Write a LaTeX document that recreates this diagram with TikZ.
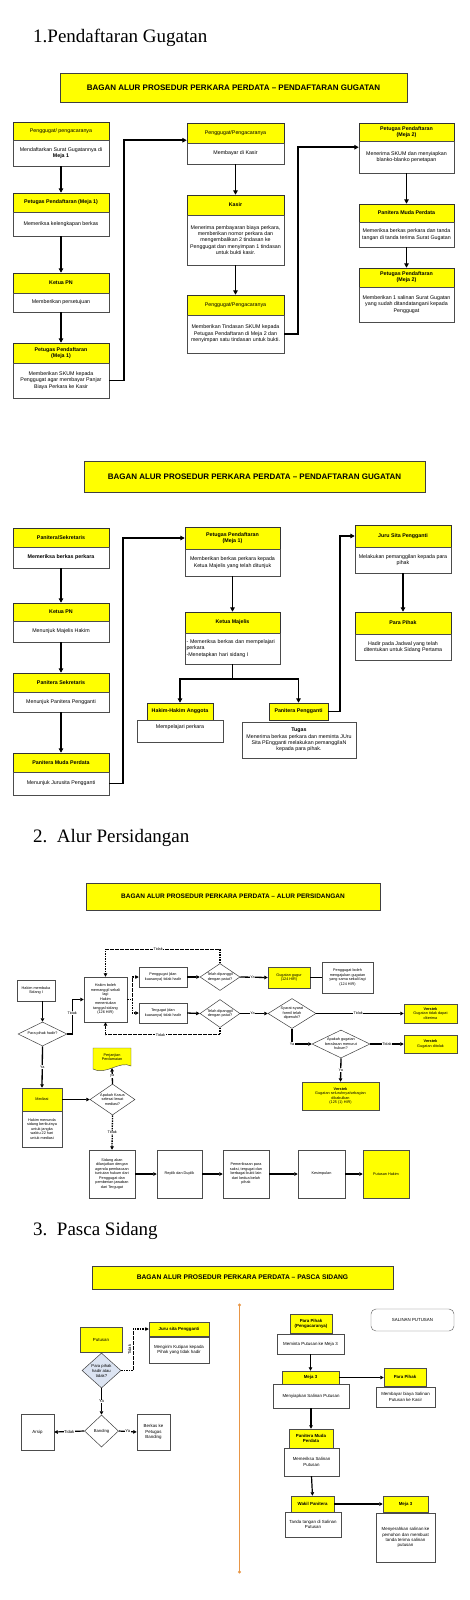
\documentclass[tikz,border=0pt]{standalone}
\usepackage{fontspec}
\setmainfont{Liberation Sans}
\newfontfamily\sectfont{Liberation Serif}
\usetikzlibrary{arrows.meta,shapes.geometric,calc}
\definecolor{ylw}{RGB}{255,255,0}
\definecolor{orng}{RGB}{232,150,70}
\definecolor{ltblue}{RGB}{220,228,242}
\newcommand\mybox[7]{%
 \pgfmathsetmacro\mbcx{(#3+#5)/2}%
 \pgfmathsetmacro\mbcy{(#4+#6)/2}%
 \pgfmathsetmacro\mbw{#5-#3}%
 \pgfmathsetmacro\mbh{#6-#4}%
 \node[#2, minimum width=\mbw pt, minimum height=\mbh pt] (#1) at (\mbcx,\mbcy) {#7};}
\newcommand\mydia[8]{%
 \node[#2, minimum width=#5pt, minimum height=#6pt] (#1) at (#3,#4) {};
 \node[#7] at (#1) {#8};}
\tikzset{
 sect/.style={font=\sectfont\fontsize{19}{22}\selectfont, inner sep=0pt},
 ttl/.style={draw=black!75, fill=ylw, line width=0.6pt, inner sep=0pt, font=\fontsize{8}{9}\selectfont\bfseries},
 hdr/.style={draw=black!80, fill=ylw, line width=0.45pt, align=center, inner xsep=1pt, inner ysep=0.3pt, font=\fontsize{5.3}{6}\selectfont\bfseries},
 hdrn/.style={hdr, font=\fontsize{5.3}{6}\selectfont},
 bod/.style={draw=black!70, fill=white, line width=0.45pt, align=center, inner xsep=1pt, inner ysep=0.3pt, font=\fontsize{5.3}{6.4}\selectfont},
 arr/.style={line width=1.6pt, -{Triangle[length=4.5pt,width=4.5pt]}},
 cline/.style={line width=1.6pt},
 b3/.style={draw=black!70, fill=white, line width=0.45pt, align=center, inner sep=0.5pt, font=\fontsize{3.8}{4.5}\selectfont},
 y3/.style={b3, fill=ylw},
 ttl3/.style={ttl, font=\fontsize{6.5}{7.5}\selectfont\bfseries},
 dia/.style={diamond, draw=black!75, fill=white, line width=0.5pt, inner sep=0pt},
 dtxt/.style={align=center, inner sep=0pt, font=\fontsize{3.8}{4.5}\selectfont},
 dtxt4/.style={align=center, inner sep=0pt, font=\fontsize{4.2}{5}\selectfont},
 arr3/.style={line width=1.3pt, -{Triangle[length=3.5pt,width=3.5pt]}},
 cl3/.style={line width=1.3pt},
 ds3/.style={arr3, dash pattern=on 1.6pt off 0.9pt},
 dl3/.style={cl3, dash pattern=on 1.6pt off 0.9pt},
 lab/.style={fill=white, inner sep=0.5pt, font=\fontsize{3.8}{4.5}\selectfont},
 b4/.style={draw=black!70, fill=white, line width=0.45pt, align=center, inner sep=0.5pt, font=\fontsize{4.4}{5.2}\selectfont},
 y4/.style={b4, fill=ylw, font=\fontsize{4.4}{5.2}\selectfont\bfseries},
 y4n/.style={b4, fill=ylw},
 ttl4/.style={ttl, font=\fontsize{6.7}{7.5}\selectfont\bfseries},
 arr4/.style={line width=1.2pt, -{Triangle[length=3.5pt,width=3.5pt]}},
 ds4/.style={arr4, dash pattern=on 1.6pt off 0.9pt},
 lab4/.style={fill=white, inner sep=0.5pt, font=\fontsize{4.2}{5}\selectfont},
}
\begin{document}
\begin{tikzpicture}[x=1pt,y=-1pt]
\useasboundingbox (0,0) rectangle (469,1600);
\fill[white] (0,0) rectangle (469,1600);

% ---------- section titles
\node[sect, anchor=west] (s1) at (33,38) {1.Pendaftaran Gugatan};
\node[sect, anchor=west] (s2) at (33,838) {2.\ \ Alur Persidangan};
\node[sect, anchor=west] (s3) at (33,1231) {3.\ \ Pasca Sidang};

% ---------- flowchart 1
\mybox{T1}{ttl}{60}{73}{407}{102}{BAGAN ALUR PROSEDUR PERKARA PERDATA – PENDAFTARAN GUGATAN}
\mybox{A1h}{hdrn}{13}{122}{109}{140}{Penggugat/ pengacaranya}
\mybox{A1b}{bod}{13}{140}{109}{166}{Mendaftarkan Surat Gugatannya di\\\textbf{Meja 1}}
\mybox{A2h}{hdr}{13}{193}{109}{212}{Petugas Pendaftaran (Meja 1)}
\mybox{A2b}{bod}{13}{212}{109}{236}{Memeriksa kelengkapan berkas}
\mybox{A3h}{hdr}{13}{273}{109}{293}{Ketua PN}
\mybox{A3b}{bod}{13}{293}{109}{312}{Memberikan persetujuan}
\mybox{A4h}{hdr}{13}{343}{109}{363}{Petugas Pendaftaran\\(Meja 1)}
\mybox{A4b}{bod}{13}{363}{109}{398}{Memberikan SKUM kepada\\Penggugat agar membayar Panjar\\Biaya Perkara ke Kasir}
\draw[arr] (A1b.south) -- (A2h.north);
\draw[arr] (A2b.south) -- (A3h.north);
\draw[arr] (A3b.south) -- (A4h.north);

\mybox{B1h}{hdrn}{187}{123}{284}{143}{Penggugat/Pengacaranya}
\mybox{B1b}{bod}{187}{143}{284}{164}{Membayar di Kasir}
\mybox{B2h}{hdr}{187}{195}{284}{215}{Kasir}
\mybox{B2b}{bod}{187}{215}{284}{265}{Menerima pembayaran biaya perkara,\\memberikan nomor perkara dan\\mengembalikan 2 tindasan ke\\Penggugat dan menyimpan 1 tindasan\\untuk bukti kasir.}
\mybox{B3h}{hdrn}{187}{295}{284}{315}{Penggugat/Pengacaranya}
\mybox{B3b}{bod}{187}{315}{284}{353}{Memberikan Tindasan SKUM kepada\\Petugas Pendaftaran di Meja 2 dan\\menyimpan satu tindasan untuk bukti.}
\draw[arr] (B1b.south) -- (B2h.north);
\draw[arr] (B2b.south) -- (B3h.north);
\draw[arr] (A4b.east) -- ++(15,0) |- ([yshift=3pt]B1h.south west);

\mybox{C1h}{hdr}{359}{123}{454}{141}{Petugas Pendaftaran\\(Meja 2)}
\mybox{C1b}{bod}{359}{141}{454}{173}{Menerima SKUM dan menyiapkan\\blanko-blanko penetapan}
\mybox{C2h}{hdr}{359}{204}{454}{222}{Panitera Muda Perdata}
\mybox{C2b}{bod}{359}{222}{454}{247}{Memeriksa berkas perkara dan tanda\\tangan di tanda terima Surat Gugatan}
\mybox{C3h}{hdr}{359}{268}{454}{287}{Petugas Pendaftaran\\(Meja 2)}
\mybox{C3b}{bod}{359}{287}{454}{322}{Memberikan 1 salinan Surat Gugatan\\yang sudah ditandatangani kepada\\Penggugat}
\draw[arr] (C1b.south) -- (C2h.north);
\draw[arr] (C2b.south) -- (C3h.north);
\draw[arr] (B3b.east) -- ++(14,0) |- ([yshift=-6pt]C1h.south west);

% ---------- flowchart 2
\mybox{T2}{ttl}{84}{461}{425}{492}{BAGAN ALUR PROSEDUR PERKARA PERDATA – PENDAFTARAN GUGATAN}
\mybox{D1h}{hdr}{13}{528}{109}{547}{Panitera/Sekretaris}
\mybox{D1b}{bod}{13}{547}{109}{568}{\textbf{Memeriksa berkas perkara}}
\mybox{D2h}{hdr}{13}{603}{109}{621}{Ketua PN}
\mybox{D2b}{bod}{13}{621}{109}{642}{Menunjuk Majelis Hakim}
\mybox{D3h}{hdr}{13}{673}{109}{692}{Panitera Sekretaris}
\mybox{D3b}{bod}{13}{692}{109}{712}{Menunjuk Panitera Pengganti}
\mybox{D4h}{hdr}{13}{753}{109}{772}{Panitera Muda Perdata}
\mybox{D4b}{bod}{13}{772}{109}{795}{Menunjuk Jurusita Pengganti}
\draw[arr] (D1b.south) -- (D2h.north);
\draw[arr] (D2b.south) -- (D3h.north);
\draw[arr] (D3b.south) -- (D4h.north);

\mybox{E1h}{hdr}{185}{527}{280}{549}{Petugas Pendaftaran\\(Meja 1)}
\mybox{E1b}{bod}{185}{549}{280}{576}{Memberikan berkas perkara kepada\\Ketua Majelis yang telah ditunjuk}
\mybox{E2h}{hdr}{185}{612}{280}{633}{Ketua Majelis}
\mybox{E2b}{bod, align=left, text width=92pt}{185}{633}{280}{664}{- Memeriksa berkas dan mempelajari\\perkara\\-Menetapkan hari sidang I}
\draw[arr] (D4b.east) -- ++(14,0) |- (E1h.west);
\draw[arr] (E1b.south) -- (E2h.north);

\mybox{F1h}{hdr}{147}{703}{213}{720}{Hakim-Hakim Anggota}
\mybox{F1b}{bod}{137}{720}{223}{742}{Mempelajari perkara\\\strut}
\mybox{F2h}{hdr}{269}{703}{328}{720}{Panitera Pengganti}
\mybox{F2b}{bod}{242}{722}{356}{758}{\textbf{Tugas}\\Menerima berkas perkara dan meminta JUru\\Sita PEngganti melakukan pemanggilaN\\kepada para pihak.}
\draw[cline] (E2b.south) -- ++(0,15) coordinate (sp);
\draw[arr] (sp) -| (F1h.north);
\draw[arr] (sp) -| (F2h.north);

\mybox{G1h}{hdr}{355}{525}{451}{547}{Juru Sita Pengganti}
\mybox{G1b}{bod}{355}{547}{451}{573}{Melakukan pemanggilan kepada para\\pihak}
\mybox{G2h}{hdr}{355}{612}{451}{634}{Para Pihak}
\mybox{G2b}{bod}{355}{634}{451}{660}{Hadir pada Jadwal yang telah\\ditentukan untuk Sidang Pertama}
\draw[arr] (F2h.east) -- ++(12,0) |- (G1h.west);
\draw[arr] (G1b.south) -- (G2h.north);

% ---------- flowchart 3
\mybox{T3}{ttl3}{86}{883}{380}{910}{BAGAN ALUR PROSEDUR PERKARA PERDATA – ALUR PERSIDANGAN}
\mybox{hm}{b3}{17}{980}{55}{1001}{Hakim membuka\\Sidang I}
\mydia{dph}{dia}{42.5}{1034}{49}{24}{dtxt}{Para pihak hadir?}
\draw[arr3] (hm.south -| dph.north) -- (dph.north);
\mybox{hb}{b3}{84}{977}{127}{1022}{Hakim boleh\\memanggil sekali\\lagi\\Hakim\\menentukan\\tanggal sidang\\(126 HIR)}
\draw[arr3] (dph.east) -- ++(5,0) |- node[pos=0.3,lab]{Tidak} (hb.west);
\mybox{pg}{b3}{139}{967}{187}{987}{Penggugat (dan\\kuasanya) tidak hadir}
\mybox{tg}{b3}{139}{1003}{187}{1023}{Tergugat (dan\\kuasanya) tidak hadir}
\draw[dl3] (hb.east) -- ++(5,0) coordinate (hbj);
\draw[ds3] (hbj) |- (pg.west);
\draw[ds3] (hbj) |- (tg.west);
\mydia{d1}{dia}{220}{977}{40}{27}{dtxt}{Telah dipanggil\\dengan patut?}
\mydia{d2}{dia}{220}{1013.5}{40}{28}{dtxt}{Telah dipanggil\\dengan patut?}
\draw[arr3] (pg.east) -- (d1.west);
\draw[arr3] (tg.east) -- (d2.west);
\draw[ds3] (d1.north) -- ++(0,-14) -| node[pos=0.27,lab]{Tidak} (hb.north);
\draw[ds3] (d2.south) -- ++(0,7) -| node[pos=0.26,lab]{Tidak} (hb.south);
\mybox{gg}{y3}{268}{967}{310}{988}{Gugatan gugur\\(124 HIR)}
\draw[arr3] (d1.east) -- node[pos=0.45,lab]{Ya} (gg.west);
\mybox{pb}{b3}{322}{962}{373}{993}{Penggugat boleh\\mengajukan gugatan\\yang sama sekali lagi\\(124 HIR)}
\draw[cl3] (gg.east) -- (pb.west);
\mydia{ds}{dia}{292}{1013.5}{48}{30}{dtxt}{Syarat-syarat\\formil telah\\dipenuhi?}
\draw[arr3] (d2.east) -- node[pos=0.45,lab]{Ya} (ds.west);
\mybox{vt1}{y3}{404}{1004}{457}{1023}{\textbf{Verstek}\\Gugatan tidak dapat\\diterima}
\draw[arr3] (ds.east) -- node[pos=0.48,lab]{Tidak} (vt1.west);
\mydia{da}{dia}{341}{1044}{58}{28}{dtxt}{Apakah gugatan\\beralasan menurut\\hukum?}
\draw[arr3] (ds.south) |- node[pos=0.5,lab]{Ya} (da.west);
\mybox{vt2}{y3}{404}{1035}{457}{1053}{\textbf{Verstek}\\Gugatan ditolak}
\draw[arr3] (da.east) -- node[pos=0.5,lab]{Tidak} (vt2.west);
\mybox{vt3}{y3}{302}{1082}{379}{1110}{\textbf{Verstek}\\Gugatan seluruhnya/sebagian\\dikabulkan\\(125 (1) HIR)}
\draw[arr3] (da.south) -- node[lab]{Ya} (vt3.north);

\mybox{med}{y3}{22}{1088}{62}{1111}{Mediasi}
\mybox{mdb}{b3}{22}{1111}{62}{1147}{Hakim menunda\\sidang berikutnya\\untuk jangka\\waktu 22 hari\\untuk mediasi}
\draw[arr3] (dph.south) -- node[lab]{Ya} (med.north);
\mydia{dk}{dia}{112.5}{1099.5}{45}{31}{dtxt}{Apakah Kasus\\selesai lewat\\mediasi?}
\draw[arr3] (med.east) -- (dk.west);
\draw[fill=ylw, draw=black!70, line width=0.45pt] (93,1048) -- (131,1048) -- (131,1066) .. controls (120,1060) and (105,1076) .. (93,1069) -- cycle;
\node[dtxt, minimum width=38pt, minimum height=20pt] (pp) at (112,1057) {Perjanjian\\Perdamaian};
\coordinate (ppb) at (112,1068);
\draw[arr3] (dk.north) -- node[lab]{ya} (ppb);

\mybox{r1}{b3}{89}{1150}{135}{1198}{Sidang akan\\dilanjutkan dengan\\agenda pembacaan\\tuntutan hukum dari\\Penggugat dan\\pemberian jawaban\\dari Tergugat}
\mybox{r2}{b3}{157}{1150}{202}{1198}{Replik dan Duplik}
\mybox{r3}{b3}{223}{1150}{269}{1198}{Pemeriksaan para\\saksi, tergugat dan\\berbagai bukti lain\\dari kedua belah\\pihak}
\mybox{r4}{b3}{298}{1150}{345}{1198}{Kesimpulan}
\mybox{r5}{y3}{363}{1150}{409}{1198}{Putusan Hakim}
\draw[ds3] (dk.south) -- node[lab]{Tidak} (r1.north);
\draw[arr3] (r1.east) -- (r2.west);
\draw[arr3] (r2.east) -- (r3.west);
\draw[arr3] (r3.east) -- (r4.west);
\draw[arr3] (r4.east) -- (r5.west);

% ---------- flowchart 4
\mybox{T4}{ttl4}{92}{1266}{393}{1289}{BAGAN ALUR PROSEDUR PERKARA PERDATA – PASCA SIDANG}
\coordinate (ot) at (239.5,1305);
\coordinate (ob) at (239.5,1572);
\draw[orng, line width=1.8pt] (ot) -- (ob);
\fill[orng] (ot) circle (1.6pt) (ob) circle (1.6pt);

\mybox{pu}{y4n}{80}{1327}{122}{1352}{Putusan}
\mydia{dpa}{dia, fill=ltblue}{101.5}{1370.5}{39}{35}{dtxt4}{Para pihak\\hadir atau\\tidak?}
\mybox{js}{y4}{149}{1322}{209}{1336}{Juru sita Pengganti}
\mybox{jsb}{b4}{149}{1337}{209}{1363}{Mengirim Kutipan kepada\\Pihak yang tidak hadir}
\draw[ds4] (dpa.east) -- ++(12,0) |- node[pos=0.25, rotate=90, anchor=south, lab4, yshift=1pt]{Tidak} (js.west);
\mydia{ban}{dia}{101.5}{1431}{34}{32}{dtxt4}{Banding}
\draw[arr4] (dpa.south) -- node[lab4]{Ya} (ban.north);
\mybox{ars}{b4}{21}{1414}{54}{1450}{Arsip}
\mybox{bk}{b4}{137}{1414}{170}{1450}{Berkas ke\\Petugas\\Banding}
\draw[arr4] (ban.west) -- node[lab4]{Tidak} (ars.east);
\draw[arr4] (ban.east) -- node[lab4]{Ya} (bk.west);

\mybox{ppk}{y4}{290}{1314}{332}{1333}{Para Pihak\\(Pengacaranya)}
\mybox{mpt}{b4}{277}{1334}{344}{1354}{Meminta Putusan ke Meja 3}
\mybox{sal}{b4, rounded corners=5pt, draw=black!60}{371}{1309}{454}{1331}{SALINAN PUTUSAN}
\mybox{m3a}{y4}{282}{1371}{339}{1384}{Meja 3}
\mybox{m3b}{b4}{273}{1384}{349}{1408}{Menyiapkan Salinan Putusan}
\draw[arr4] (mpt.south) -- (m3a.north);
\mybox{pp2}{y4}{384}{1368}{426}{1386}{Para Pihak}
\mybox{pp2b}{b4}{376}{1387}{435}{1407}{Membayar biaya Salinan\\Putusan ke Kasir}
\draw[arr4] (m3a.east) -- (m3a.east -| pp2.west);
\mybox{pmp}{y4}{289}{1429}{333}{1448}{Panitera Muda\\Perdata}
\mybox{pmpb}{b4}{284}{1448}{339}{1476}{Memeriksa Salinan\\Putusan}
\draw[arr4] (m3b.south) -- (pmp.north);
\mybox{wp}{y4}{291}{1496}{334}{1512}{Wakil Panitera}
\mybox{wpb}{b4}{285}{1512}{341}{1537}{Tanda tangan di Salinan\\Putusan}
\draw[arr4] (pmpb.south) -- (wp.north);
\mybox{m3c}{y4}{383}{1496}{428}{1512}{Meja 3}
\mybox{m3cb}{b4}{376}{1513}{435}{1562}{Menyerahkan salinan ke\\pemohon dan membuat\\tanda terima salinan\\putusan}
\draw[arr4] (wp.east) -- (m3c.west);
\end{tikzpicture}
\end{document}
